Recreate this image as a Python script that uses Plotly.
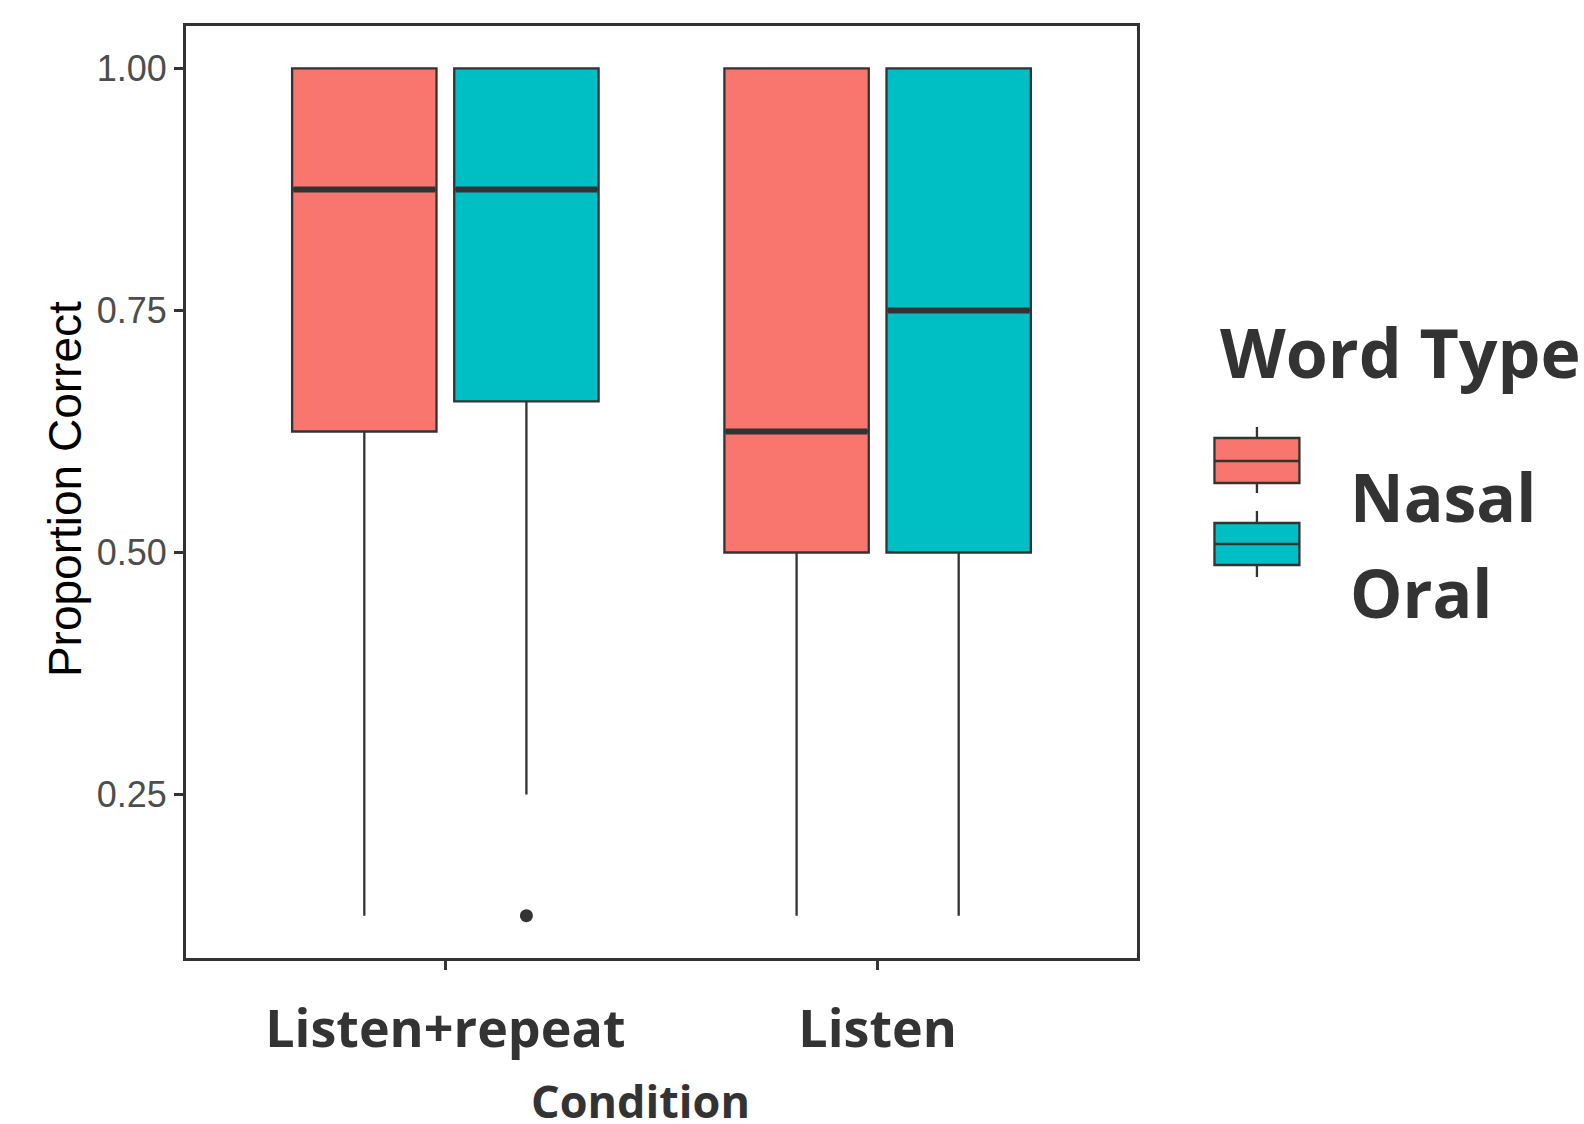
import plotly.graph_objects as go

# ---- data -------------------------------------------------------------
conditions = ["Listen+repeat", "Listen"]
word_types = ["Nasal", "Oral"]

nasal_lower = [0.125, 0.125]
nasal_q1 = [0.625, 0.5]
nasal_median = [0.875, 0.625]
nasal_q3 = [1.0, 1.0]
nasal_upper = [1.0, 1.0]

oral_lower = [0.25, 0.125]
oral_q1 = [0.656, 0.5]
oral_median = [0.875, 0.75]
oral_q3 = [1.0, 1.0]
oral_upper = [1.0, 1.0]

# outlying observations: (condition, value) for the Oral group
oral_outlier_condition = ["Listen+repeat"]
oral_outlier_value = [0.125]

y_ticks = [0.25, 0.50, 0.75, 1.00]

# ---- styling ----------------------------------------------------------
NASAL_FILL = "#F8766D"
ORAL_FILL = "#00BFC4"
INK = "#333333"
DODGE = 0.1875      # half of the dodge width
BOX_W = 0.334       # box width in category units

W, H = 1584, 1124
ML, MR, MT, MB = 186, 446.5, 26, 166
PW, PH = W - ML - MR, H - MT - MB


def px_x(px):
    return (px - ML) / PW


def px_y(py):
    return (H - MB - py) / PH


cat_pos = {c: i + 1 for i, c in enumerate(conditions)}

fig = go.Figure()

groups = [
    ("Nasal", -DODGE, NASAL_FILL, nasal_lower, nasal_q1, nasal_median, nasal_q3, nasal_upper),
    ("Oral", +DODGE, ORAL_FILL, oral_lower, oral_q1, oral_median, oral_q3, oral_upper),
]

for name, off, fill, lo, q1, med, q3, hi in groups:
    xs = [cat_pos[c] + off for c in conditions]
    fig.add_trace(go.Box(
        name=name, x=xs, q1=q1, median=med, q3=q3,
        lowerfence=lo, upperfence=hi,
        width=BOX_W, whiskerwidth=0, boxpoints=False,
        fillcolor=fill, line=dict(color=INK, width=2.3),
        showlegend=False, hoverinfo="skip",
    ))
    # thicker median bar drawn on top of the box
    mx, my = [], []
    for x, m in zip(xs, med):
        mx += [x - BOX_W / 2 + 0.003, x + BOX_W / 2 - 0.003, None]
        my += [m, m, None]
    fig.add_trace(go.Scatter(
        x=mx, y=my, mode="lines", line=dict(color=INK, width=6),
        showlegend=False, hoverinfo="skip",
    ))

fig.add_trace(go.Scatter(
    x=[cat_pos[c] + DODGE for c in oral_outlier_condition],
    y=oral_outlier_value, mode="markers",
    marker=dict(color=INK, size=13),
    showlegend=False, hoverinfo="skip",
))

fig.update_layout(
    width=W, height=H,
    margin=dict(l=ML, r=MR, t=MT, b=MB, pad=0),
    paper_bgcolor="white", plot_bgcolor="white",
    showlegend=False,
)

fig.update_xaxes(
    range=[0.4, 2.6], tickmode="array",
    tickvals=[cat_pos[c] for c in conditions], ticktext=conditions,
    showgrid=False, zeroline=False,
    showline=True, mirror=True, linecolor=INK, linewidth=3,
    ticks="outside", ticklen=9, tickwidth=2.5, tickcolor=INK,
    tickfont=dict(family="Open Sans", size=52, color=INK, weight="bold"),
    ticklabelstandoff=15,
)
fig.update_yaxes(
    range=[0.08125, 1.04375], tickmode="array",
    tickvals=y_ticks, ticktext=[f"{v:.2f}" for v in y_ticks],
    showgrid=False, zeroline=False,
    showline=True, mirror=True, linecolor=INK, linewidth=3,
    ticks="outside", ticklen=9, tickwidth=2.5, tickcolor=INK,
    tickfont=dict(family="Liberation Sans", size=36, color="#4D4D4D"),
    ticklabelstandoff=0,
)

# axis titles
fig.add_annotation(
    text="Proportion Correct", textangle=-90,
    x=px_x(65), y=px_y(489), xref="paper", yref="paper",
    xanchor="center", yanchor="middle", showarrow=False,
    font=dict(family="Liberation Sans", size=46, color="black"),
)
fig.add_annotation(
    text="Condition",
    x=px_x(641), y=px_y(1100), xref="paper", yref="paper",
    xanchor="center", yanchor="middle", showarrow=False,
    font=dict(family="Open Sans", size=45, color=INK, weight="bold"),
)

# legend: title, keys and labels
fig.add_annotation(
    text="Word Type", x=px_x(1219), y=px_y(352), xref="paper", yref="paper",
    xanchor="left", yanchor="middle", showarrow=False,
    font=dict(family="Open Sans", size=68, color=INK, weight="bold"),
)

key_specs = [
    # fill, box top, box bottom, whisker top, whisker bottom, median, label centre
    (NASAL_FILL, 438, 483, 427, 493, 461, 496),
    (ORAL_FILL, 523, 565, 511, 577, 544, 592),
]
KX0, KX1 = 1215, 1300
kxm = (KX0 + KX1) / 2
for (fill, bt, bb, wt, wb, md, ly), label in zip(key_specs, word_types):
    fig.add_shape(type="line", xref="paper", yref="paper",
                  x0=px_x(kxm), x1=px_x(kxm), y0=px_y(wt), y1=px_y(wb),
                  line=dict(color=INK, width=2.3), layer="above")
    fig.add_shape(type="rect", xref="paper", yref="paper",
                  x0=px_x(KX0), x1=px_x(KX1), y0=px_y(bt), y1=px_y(bb),
                  fillcolor=fill, line=dict(color=INK, width=2.3), layer="above")
    fig.add_shape(type="line", xref="paper", yref="paper",
                  x0=px_x(KX0), x1=px_x(KX1), y0=px_y(md), y1=px_y(md),
                  line=dict(color=INK, width=2.3), layer="above")
    fig.add_annotation(
        text=label, x=px_x(1349), y=px_y(ly), xref="paper", yref="paper",
        xanchor="left", yanchor="middle", showarrow=False,
        font=dict(family="Open Sans", size=66, color=INK, weight="bold"),
    )

fig.write_html("out.html")
